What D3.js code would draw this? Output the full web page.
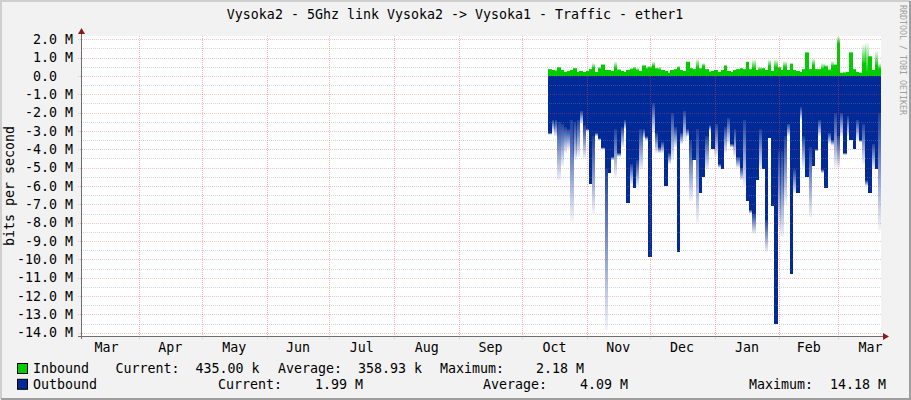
<!DOCTYPE html>
<html>
<head>
<meta charset="utf-8">
<script src="https://cdn.jsdelivr.net/npm/d3@7"></script>
<style>
  body { margin: 0; background: #fff; }
  text { font-family: "DejaVu Sans Mono", monospace; fill: #000; white-space: pre; }
</style>
</head>
<body>
<svg id="chart" width="911" height="400"></svg>
<script>
// values in Mbit/s, one sample every 36h starting 2012-10-13 10:00
const firstSample = new Date(2012, 9, 13, 10);
const stepHours = 36;

const inCore = [0.35, 0.3, 0.25, 0.45, 0.3, 0.2, 0.25, 0.3, 0.4, 0.2,
    0.25, 0.2, 0.25, 0.35, 0.45, 0.2, 0.4, 0.6, 0.3, 0.3,
    0.25, 0.45, 0.3, 0.25, 0.2, 0.3, 0.35, 0.4, 0.3, 0.25,
    0.55, 0.4, 0.45, 0.55, 0.4, 0.35, 0.3, 0.25, 0.15, 0.3,
    0.35, 0.45, 0.3, 0.25, 0.75, 0.4, 0.35, 0.5, 0.4, 0.55,
    0.35, 0.2, 0.25, 0.3, 0.2, 0.3, 0.55, 0.25, 0.2, 0.3,
    0.35, 0.4, 0.35, 0.75, 0.35, 0.45, 0.3, 0.35, 0.4, 0.3,
    0.55, 0.25, 0.5, 0.45, 0.3, 0.5, 0.3, 0.65, 0.3, 0.25,
    0.2, 0.35, 1.27, 0.35, 0.6, 0.35, 0.35, 0.4, 0.5, 0.3,
    0.55, 0.6, 1.8, 0.15, 0.15, 0.2, 1.27, 0.35, 0.2, 0.15,
    0.7, 0.25, 1.05, 0.3, 0.6, 0.4];
const inPeak = [0.4, 0.35, 0.35, 0.5, 0.35, 0.25, 0.3, 0.35, 0.45, 0.25,
    0.3, 0.25, 0.3, 0.4, 0.7, 0.25, 0.5, 0.65, 0.35, 0.35,
    0.3, 0.78, 0.4, 0.3, 0.25, 0.35, 0.45, 0.5, 0.45, 0.3,
    0.6, 0.5, 0.55, 0.78, 0.45, 0.5, 0.35, 0.3, 0.2, 0.35,
    0.4, 0.55, 0.35, 0.3, 0.8, 0.45, 0.4, 0.93, 0.45, 0.7,
    0.4, 0.3, 0.3, 0.35, 0.25, 0.35, 0.6, 0.3, 0.25, 0.35,
    0.4, 0.45, 0.4, 0.8, 0.4, 0.9, 0.35, 0.5, 0.45, 0.35,
    0.9, 0.3, 0.9, 0.5, 0.35, 0.8, 0.35, 0.7, 0.35, 0.3,
    0.25, 0.4, 1.3, 0.4, 0.95, 0.4, 0.4, 0.7, 0.6, 0.4,
    0.8, 0.65, 2.15, 0.2, 0.25, 0.25, 1.3, 0.4, 0.25, 0.2,
    1.7, 1.8, 1.1, 0.35, 1.35, 0.7];
const outCore = [3.1, 2.4, 2.4, 2.5, 2.6, 2.8, 2.9, 2.4, 2.5, 2.4,
    1.9, 2.7, 2.9, 5.9, 3.3, 3.1, 3.4, 3.9, 5.1, 5.3,
    4.4, 2.9, 4.2, 2.8, 2.4, 6.9, 4.8, 6.1, 4.6, 2.9,
    2.9, 3.3, 9.85, 1.5, 3.1, 3.9, 3.6, 6.0, 4.2, 2.0,
    2.8, 9.6, 3.1, 1.9, 2.9, 3.5, 4.6, 2.9, 6.4, 5.5,
    3.3, 2.7, 4.0, 2.6, 4.8, 5.1, 2.8, 2.3, 3.7, 2.9,
    4.4, 5.0, 2.4, 6.8, 7.3, 7.5, 5.7, 2.9, 5.1, 7.85,
    3.4, 7.1, 13.5, 4.1, 4.1, 3.3, 2.6, 10.8, 5.1, 6.4,
    1.7, 3.3, 5.5, 3.9, 4.9, 4.0, 2.4, 5.1, 6.1, 3.1,
    3.5, 2.0, 3.3, 2.0, 4.2, 2.2, 3.5, 4.0, 2.4, 3.5,
    2.6, 5.7, 6.4, 3.7, 5.1, 2.0];
const outPeak = [3.2, 3.0, 3.3, 5.7, 4.9, 4.2, 4.0, 7.9, 4.6, 4.4,
    2.6, 4.5, 3.0, 5.9, 7.5, 3.3, 3.5, 4.0, 13.85, 5.3,
    4.6, 5.5, 4.4, 3.9, 2.9, 6.9, 5.9, 6.1, 6.0, 5.1,
    3.4, 3.5, 9.85, 3.1, 4.2, 4.2, 4.2, 6.0, 4.8, 4.6,
    3.9, 9.6, 3.7, 3.5, 3.3, 6.8, 4.6, 8.0, 6.4, 5.5,
    5.1, 3.0, 4.0, 4.4, 5.0, 5.1, 4.2, 3.7, 3.9, 4.4,
    5.0, 5.7, 6.0, 6.8, 7.5, 8.6, 5.7, 5.1, 5.1, 9.6,
    3.4, 7.1, 13.5, 8.2, 8.8, 7.0, 3.3, 10.8, 6.4, 6.4,
    2.4, 5.0, 5.5, 7.7, 4.9, 4.1, 3.3, 5.3, 6.1, 3.7,
    3.8, 5.0, 5.0, 3.3, 4.3, 3.3, 3.5, 4.0, 3.5, 3.6,
    4.8, 6.0, 6.4, 5.1, 5.1, 8.4];

const yTicks = [2, 1, 0, -1, -2, -3, -4, -5, -6, -7, -8, -9, -10, -11, -12, -13, -14];
const monthNames = ["Mar", "Apr", "May", "Jun", "Jul", "Aug", "Sep", "Oct", "Nov", "Dec", "Jan", "Feb", "Mar"];

const legendIn = ["Inbound", "Current:", "435.00 k", "Average:", "358.93 k", "Maximum:", "   2.18 M"];
const legendOut = ["Outbound", "Current:", "   1.99 M", "Average:", "   4.09 M", "Maximum:", "  14.18 M"];

const W = 911, H = 400;
const pLeft = 81, pRight = 881, pTop = 36, pBottom = 336;
const fs = 13.3;

let svg = d3.select("#chart");

let x = d3.scaleTime()
    .domain([new Date(2012, 2, 4, 8), new Date(2013, 2, 21, 12)])
    .range([pLeft, pRight]);
let y = d3.scaleLinear().domain([-14.18, 2.18]).range([pBottom, pTop]);

// background and 3d frame
svg.append("rect").attr("width", W).attr("height", H).attr("fill", "#f2f2f2");
svg.append("path").attr("d", "M1,399V1H910").attr("fill", "none").attr("stroke", "#cfcfcf").attr("stroke-width", 2);
svg.append("path").attr("d", "M1,399H910V1").attr("fill", "none").attr("stroke", "#9e9e9e").attr("stroke-width", 2);
svg.append("rect").attr("x", pLeft).attr("y", pTop).attr("width", pRight - pLeft).attr("height", pBottom - pTop).attr("fill", "#fff");

let defs = svg.append("defs");
let gOut = defs.append("linearGradient").attr("id", "fadeOut").attr("x1", 0).attr("y1", 0).attr("x2", 0).attr("y2", 1);
gOut.append("stop").attr("offset", 0).attr("stop-color", "#002a97").attr("stop-opacity", 0.9);
gOut.append("stop").attr("offset", 1).attr("stop-color", "#002a97").attr("stop-opacity", 0.05);
let gIn = defs.append("linearGradient").attr("id", "fadeIn").attr("x1", 0).attr("y1", 1).attr("x2", 0).attr("y2", 0);
gIn.append("stop").attr("offset", 0).attr("stop-color", "#00cc00").attr("stop-opacity", 0.9);
gIn.append("stop").attr("offset", 1).attr("stop-color", "#00cc00").attr("stop-opacity", 0.05);

let samples = inCore.map(function(d, i) {
    let t0 = d3.timeHour.offset(firstSample, i * stepHours);
    let t1 = d3.timeHour.offset(firstSample, (i + 1) * stepHours);
    return {t0: t0, t1: t1, inC: d, inP: inPeak[i], outC: outCore[i], outP: outPeak[i]};
});

let plot = svg.append("g");

function bars(cls, y0, y1, fill) {
    plot.selectAll("rect." + cls).data(samples).enter().append("rect")
        .attr("class", cls)
        .attr("x", function(d) { return x(d.t0); })
        .attr("width", function(d) { return Math.min(x(d.t1), pRight) - x(d.t0) + 0.4; })
        .attr("y", function(d) { return Math.min(y(y0(d)), y(y1(d))); })
        .attr("height", function(d) { return Math.abs(y(y1(d)) - y(y0(d))); })
        .attr("fill", fill)
        .attr("shape-rendering", "crispEdges");
}

bars("outfade", function(d) { return -d.outC; }, function(d) { return -d.outP; }, "url(#fadeOut)");
bars("outcore", function(d) { return 0; }, function(d) { return -d.outC; }, "#002a97");
bars("infade", function(d) { return d.inC; }, function(d) { return d.inP; }, "url(#fadeIn)");
bars("incore", function(d) { return 0; }, function(d) { return d.inC; }, "#00cc00");

// grid, drawn over the data like rrdtool does
let grid = svg.append("g").attr("shape-rendering", "crispEdges");
let minor = y.ticks(33).filter(function(v) { return v % 1 !== 0; });
grid.selectAll("line.minor").data(minor).enter().append("line")
    .attr("x1", pLeft).attr("x2", pRight)
    .attr("y1", function(d) { return Math.round(y(d)) + 0.5; })
    .attr("y2", function(d) { return Math.round(y(d)) + 0.5; })
    .attr("stroke", "rgba(140,140,140,0.35)").attr("stroke-dasharray", "1,1");
grid.selectAll("line.major").data(yTicks).enter().append("line")
    .attr("x1", pLeft - 3).attr("x2", pRight + 1)
    .attr("y1", function(d) { return Math.round(y(d)) + 0.5; })
    .attr("y2", function(d) { return Math.round(y(d)) + 0.5; })
    .attr("stroke", "rgba(235,70,70,0.32)").attr("stroke-dasharray", "1,1");

let months = d3.timeMonth.range(d3.timeMonth.ceil(x.domain()[0]), x.domain()[1]);
grid.selectAll("line.vmaj").data(months).enter().append("line")
    .attr("x1", function(d) { return Math.round(x(d)) + 0.5; })
    .attr("x2", function(d) { return Math.round(x(d)) + 0.5; })
    .attr("y1", pTop).attr("y2", pBottom + 3)
    .attr("stroke", "rgba(235,70,70,0.4)").attr("stroke-dasharray", "1,1");

// axes
svg.append("line").attr("x1", pLeft - 3).attr("x2", pRight + 3).attr("y1", pBottom + 0.5).attr("y2", pBottom + 0.5)
    .attr("stroke", "#6e6e6e");
svg.append("line").attr("x1", pLeft + 0.5).attr("x2", pLeft + 0.5).attr("y1", pBottom + 3).attr("y2", pTop - 3)
    .attr("stroke", "#6e6e6e");
svg.append("path").attr("d", "M" + (pRight + 2) + "," + (pBottom - 3) + "L" + (pRight + 8) + "," + (pBottom + 0.5) + "L" + (pRight + 2) + "," + (pBottom + 4) + "Z")
    .attr("fill", "#8b1a1a");
svg.append("path").attr("d", "M" + (pLeft - 3) + "," + (pTop - 2) + "L" + (pLeft + 0.5) + "," + (pTop - 8) + "L" + (pLeft + 4) + "," + (pTop - 2) + "Z")
    .attr("fill", "#8b1a1a");

// y labels
svg.selectAll("text.ylab").data(yTicks).enter().append("text")
    .attr("class", "ylab")
    .attr("x", 73).attr("y", function(d) { return y(d); })
    .attr("dy", "0.36em")
    .attr("text-anchor", "end")
    .style("font-size", fs + "px")
    .text(function(d) { return d === 0 ? "0.0  " : d3.format(".1f")(d).replace("\u2212", "-") + " M"; });

// month labels at the middle of each month
let monthStarts = d3.timeMonth.range(d3.timeMonth.floor(x.domain()[0]), x.domain()[1]);
svg.selectAll("text.xlab").data(monthStarts).enter().append("text")
    .attr("class", "xlab")
    .attr("x", function(d) { return (x(d) + x(d3.timeMonth.offset(d, 1))) / 2; })
    .attr("y", 351.5)
    .attr("text-anchor", "middle")
    .style("font-size", fs + "px")
    .text(function(d, i) { return monthNames[i]; });

// title and side texts
svg.append("text").attr("x", 455).attr("y", 18.8).attr("text-anchor", "middle")
    .style("font-size", fs + "px")
    .text("Vysoka2 - 5Ghz link Vysoka2 -> Vysoka1 - Traffic - ether1");
svg.append("text").attr("transform", "translate(13.5,186) rotate(-90)").attr("text-anchor", "middle")
    .style("font-size", fs + "px")
    .text("bits per second");
svg.append("text").attr("transform", "translate(899.5,5) rotate(90)")
    .style("font-size", "8.3px").style("fill", "#a0a0a0")
    .text("RRDTOOL / TOBI OETIKER");

// legend
function legendRow(items, xs, base, colour) {
    svg.append("rect").attr("x", 17.5).attr("y", base - 9.5).attr("width", 10).attr("height", 10)
        .attr("fill", colour).attr("stroke", "#000");
    for (let i = 0; i < items.length; i++) {
        svg.append("text").attr("x", xs[i]).attr("y", base)
            .style("font-size", fs + "px")
            .text(items[i]);
    }
}
legendRow(legendIn, [33, 115.5, 195.5, 278, 358, 440, 512], 373, "#00cc00");
legendRow(legendOut, [33, 218, 291, 483, 556, 749, 814], 388.8, "#002a97");
</script>
</body>
</html>
